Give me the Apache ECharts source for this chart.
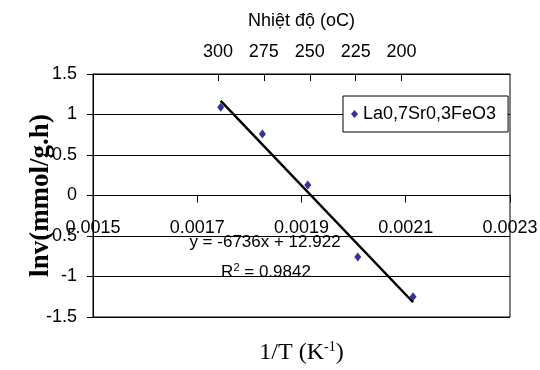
<!DOCTYPE html>
<html>
<head>
<meta charset="utf-8">
<script src="https://cdn.jsdelivr.net/npm/echarts@6/dist/echarts.min.js"></script>
<style>
  html, body { margin: 0; padding: 0; background: #ffffff; }
  #chart { width: 540px; height: 370px; }
</style>
</head>
<body>
<div id="chart"></div>
<script>
// ---- data ----
const xMin = 0.0015;
const xMax = 0.0023;
const xStep = 0.0002;
const yMin = -1.5;
const yMax = 1.5;
const yStep = 0.5;
const tempTicks = [300, 275, 250, 225, 200];   // top axis, Nhiệt độ (oC)
const tempMin = 141;
const tempMax = 368;
const invT = [0.001745, 0.001825, 0.001912, 0.002008, 0.002114];
const lnv = [1.09, 0.76, 0.13, -0.76, -1.25];
const trendX = [0.001745, 0.002114];
const trendY = [1.167, -1.318];
const seriesName = 'La0,7Sr0,3FeO3';
const eqText = 'y = -6736x + 12.922';
const r2Value = '0.9842';

const SANS = "'Liberation Sans', Arial, sans-serif";
const SERIF = "'Liberation Serif', 'DejaVu Serif', serif";
const FS = 18;

const GRID = { left: 93, right: 30, top: 74, bottom: 53 };
const plotH = 370 - GRID.top - GRID.bottom;
// x axis crosses the y axis at value 0
const zeroOffset = -plotH * (0 - yMin) / (yMax - yMin);

const chart = echarts.init(document.getElementById('chart'), null, { renderer: 'canvas' });

const scatterData = invT.map((x, i) => [x, lnv[i]]);
const trendData = trendX.map((x, i) => [x, trendY[i]]);

chart.setOption({
  backgroundColor: '#ffffff',
  animation: false,
  grid: Object.assign({}, GRID, {
    containLabel: false,
    outerBoundsMode: 'none',
    show: true, borderColor: '#000', borderWidth: 1, backgroundColor: 'transparent'
  }),
  legend: {
    data: [{ name: seriesName, icon: 'diamond' }],
    left: 343, top: 96,
    orient: 'vertical',
    backgroundColor: '#fff',
    borderColor: '#000', borderWidth: 1,
    padding: [9, 12, 9, 8],
    itemWidth: 7, itemHeight: 8,
    itemGap: 0,
    textStyle: { fontFamily: SANS, fontSize: FS, color: '#000' }
  },
  xAxis: [
    {
      type: 'value',
      position: 'bottom',
      offset: zeroOffset,
      min: xMin, max: xMax, interval: xStep,
      axisLine: { show: true, onZero: false, lineStyle: { color: '#000', width: 1 } },
      axisTick: { show: true, inside: false, length: 7, lineStyle: { color: '#000' } },
      axisLabel: {
        margin: 24, color: '#000', fontFamily: SANS, fontSize: FS,
        showMinLabel: true, showMaxLabel: true,
        formatter: v => v.toFixed(4)
      },
      splitLine: { show: false },
      name: '1/T (K{sup|-1})',
      nameLocation: 'middle',
      nameGap: 145,
      nameMoveOverlap: false,
      nameTextStyle: {
        fontFamily: SERIF, fontSize: 24, color: '#000',
        rich: { sup: { fontFamily: SERIF, fontSize: 14, color: '#000', verticalAlign: 'top', padding: [0, 0, 10, 0] } }
      }
    },
    {
      type: 'value',
      position: 'top',
      inverse: true,
      min: tempMin, max: tempMax,
      axisLine: { onZero: false, lineStyle: { color: '#000', width: 1 } },
      axisTick: { show: true, inside: true, length: 7, customValues: tempTicks, lineStyle: { color: '#000' } },
      axisLabel: { customValues: tempTicks, margin: 13, color: '#000', fontFamily: SANS, fontSize: FS },
      splitLine: { show: false },
      name: 'Nhiệt độ (oC)',
      nameLocation: 'middle',
      nameGap: 44,
      nameMoveOverlap: false,
      nameTextStyle: { fontFamily: SANS, fontSize: FS, color: '#000' }
    }
  ],
  yAxis: {
    type: 'value',
    min: yMin, max: yMax, interval: yStep,
    axisLine: { show: true, onZero: false, lineStyle: { color: '#000', width: 1 } },
    axisTick: { show: true, inside: false, length: 6, lineStyle: { color: '#000' } },
    axisLabel: { margin: 16, color: '#000', fontFamily: SANS, fontSize: FS, showMinLabel: true, showMaxLabel: true },
    splitLine: { show: true, lineStyle: { color: '#000', width: 1 } },
    name: 'lnv(mmol/g.h)',
    nameLocation: 'middle',
    nameGap: 38,
    nameMoveOverlap: false,
    nameTextStyle: { fontFamily: SERIF, fontWeight: 'bold', fontSize: 27, color: '#000' }
  },
  series: [
    {
      name: 'trend',
      type: 'line',
      xAxisIndex: 0,
      data: trendData,
      symbol: 'none',
      lineStyle: { color: '#000', width: 2.5 },
      z: 3,
      silent: true
    },
    {
      name: seriesName,
      type: 'scatter',
      xAxisIndex: 0,
      data: scatterData,
      symbol: 'diamond',
      symbolSize: [7, 9],
      itemStyle: { color: '#000080' },
      z: 4
    }
  ],
  graphic: [
    {
      type: 'text',
      style: {
        text: eqText, x: 265, y: 242,
        fontFamily: SANS, fontSize: 17, fill: '#000',
        align: 'center', verticalAlign: 'middle'
      }
    },
    {
      type: 'text',
      style: {
        text: 'R{s|2} = ' + r2Value,
        x: 266, y: 272,
        fontFamily: SANS, fontSize: 17, fill: '#000',
        align: 'center', verticalAlign: 'middle',
        rich: { s: { fontFamily: SANS, fontSize: 11, fill: '#000', verticalAlign: 'top', padding: [0, 0, 8, 0] } }
      }
    }
  ]
});
</script>
</body>
</html>
